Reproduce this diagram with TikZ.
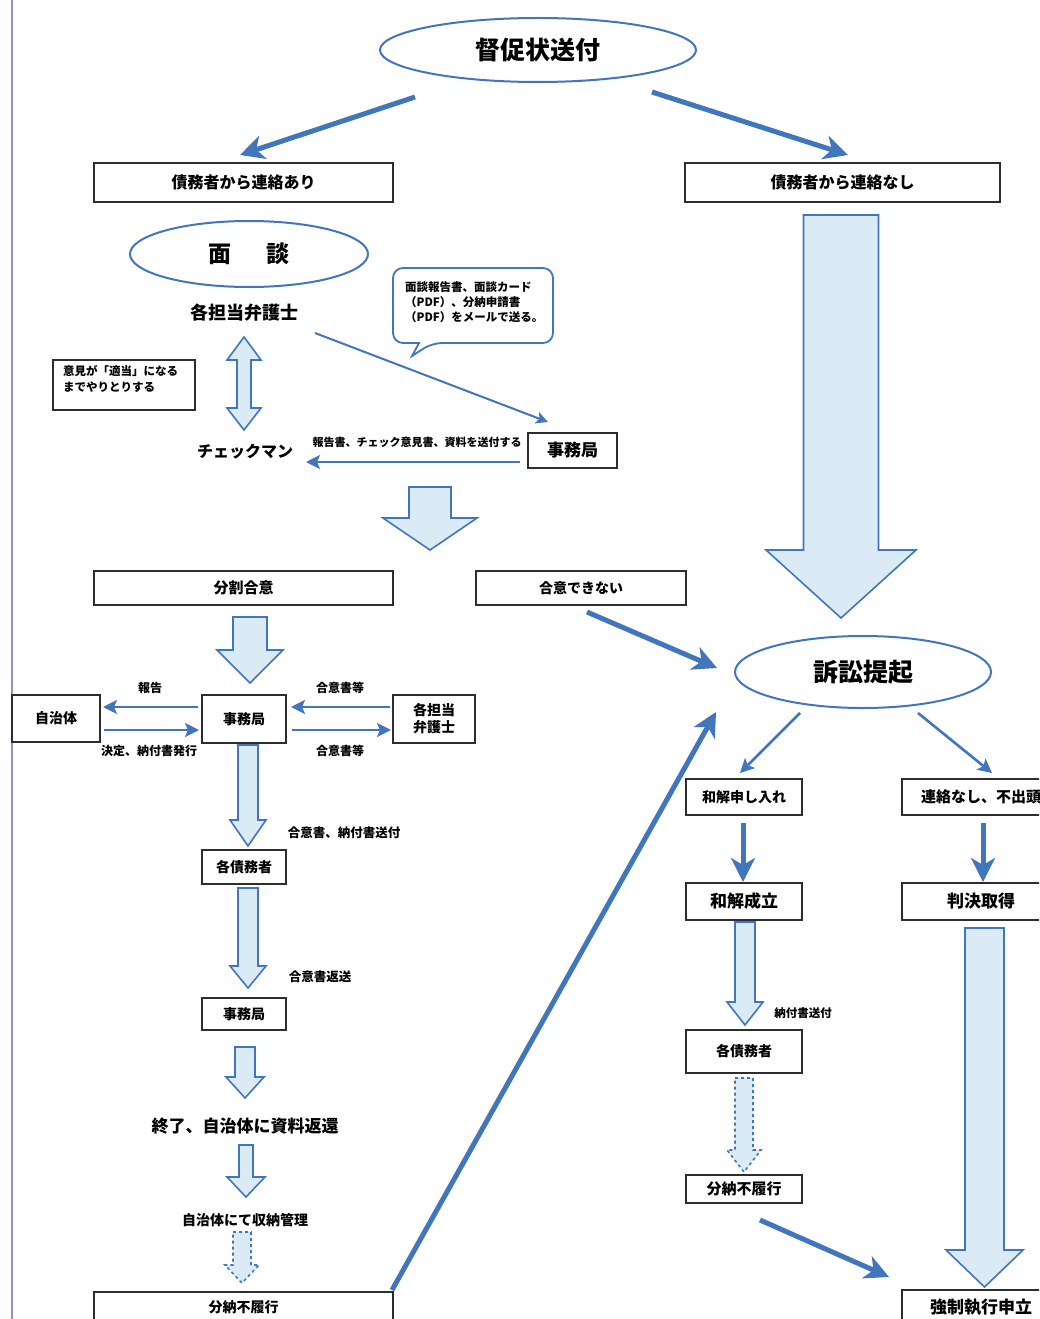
\documentclass[tikz,border=0pt]{standalone}
\usepackage{fontspec}
\setmainfont{Noto Sans CJK JP}
\usetikzlibrary{shapes.geometric,arrows.meta}
\definecolor{ab}{RGB}{66,118,188}
\definecolor{lb}{RGB}{219,235,246}
\definecolor{bc}{RGB}{45,45,45}
\definecolor{edge}{RGB}{140,150,185}
\newcommand\F[1]{\fontsize{#1}{#1}\selectfont\bfseries}
\newcommand\blk[7][]{\draw[blk,#1] ({#2-#6},#3) -- ({#2+#6},#3) -- ({#2+#6},#4) -- ({#2+#7},#4) -- (#2,#5) -- ({#2-#7},#4) -- ({#2-#6},#4) -- cycle;}
\tikzset{
 bx/.style={draw=bc, line width=1.6pt, fill=white, inner sep=0pt},
 ell/.style={ellipse, draw=ab, line width=2pt, fill=white, inner sep=0pt},
 lbl/.style={inner sep=0pt},
 blk/.style={draw=ab, line width=1.6pt, fill=lb, line join=miter},
 bigar/.style={draw=ab, line width=5pt, -{Stealth[length=24pt,width=24pt,inset=7pt]}},
 midar/.style={draw=ab, line width=2.6pt, -{Stealth[length=14pt,width=14pt,inset=3pt]}},
 thinar/.style={draw=ab, line width=2pt, -{Stealth[length=12pt,width=12pt,inset=3pt]}},
}
\begin{document}
\begin{tikzpicture}[x=1pt,y=-1pt]
\useasboundingbox (0,0) rectangle (1039,1319);
\fill[white] (0,0) rectangle (1039,1319);
\clip (0,0) rectangle (1039,1319);
\draw[edge, line width=1.5pt] (12,0) -- (12,1319);

% ---- top part
\node[ell, minimum width=316, minimum height=64, font=\F{25}] (top) at (538,50) {督促状送付};
\node[bx, minimum width=299, minimum height=39, font=\F{16}] (b1) at (243.5,182.5) {債務者から連絡あり};
\node[bx, minimum width=315, minimum height=39, font=\F{16}] (b2) at (842.5,182.5) {債務者から連絡なし};
\coordinate (t1) at (415,97); \coordinate (t1e) at (240,155);
\coordinate (t2) at (652,92); \coordinate (t2e) at (848,155);
\draw[bigar] (t1) -- (t1e);
\draw[bigar] (t2) -- (t2e);

\node[ell, minimum width=238, minimum height=66, font=\F{23}] (mendan) at (249,254) {面\hspace{1.5em}談};
\node[lbl, font=\F{18}] (tantou) at (244,313) {各担当弁護士};

% speech bubble
\draw[ab, line width=1.8pt, fill=white, rounded corners=10pt] (393,268) -- (553,268) -- (553,343) -- (432,343) [sharp corners] -- (412,356) -- (419,343) [rounded corners=10pt] -- (393,343) -- cycle;
\node[lbl, align=left, anchor=north west, font=\F{11.5}] (bub) at (405,281) {面談報告書、面談カード\\[3.5pt]（PDF）、分納申請書\\[3.5pt]（PDF）をメールで送る。};

\node[bx, line width=2pt, minimum width=142, minimum height=50] (note) at (124,385) {};
\node[lbl, align=left, anchor=north west, font=\F{11.5}] (notetxt) at (63,365) {意見が「適当」になる\\[4.5pt]までやりとりする};

% double block arrow
\draw[blk] (244,337) -- (261,360) -- (251,360) -- (251,408) -- (261,408) -- (244,430) -- (227,408) -- (237,408) -- (237,360) -- (227,360) -- cycle;

\node[lbl, font=\F{16}] (check) at (245,452) {チェックマン};
\node[bx, minimum width=89, minimum height=35, font=\F{17}] (jim1) at (572.5,450.5) {事務局};
\coordinate (c1) at (315,333); \coordinate (c1e) at (548,422);
\draw[thinar] (c1) -- (c1e);
\coordinate (c2) at (520,462); \coordinate (c2e) at (306,462);
\draw[midar] (c2) -- (c2e);
\node[lbl, font=\F{11}] (lab1) at (417,442) {報告書、チェック意見書、資料を送付する};

\blk{430}{487}{518}{550}{21}{47}
\blk{841}{215}{550}{618}{37.5}{75}

% ---- middle
\node[bx, minimum width=299, minimum height=34, font=\F{15}] (bunkatsu) at (243.5,588) {分割合意};
\node[bx, minimum width=210, minimum height=34, font=\F{14}] (fugoui) at (581,588) {合意できない};
\node[ell, minimum width=256, minimum height=72, font=\F{25}] (soshou) at (863,672) {訴訟提起};
\coordinate (f1) at (587,612); \coordinate (f1e) at (717,668);
\draw[bigar] (f1) -- (f1e);

\blk{250}{617}{650}{683}{17}{33}

\node[bx, minimum width=88, minimum height=47, font=\F{14}] (jichi) at (56,718.5) {自治体};
\node[bx, minimum width=84, minimum height=48, font=\F{14}] (jim2) at (244,719) {事務局};
\node[bx, minimum width=82, minimum height=48, font=\F{14}, align=center] (bengo) at (434,719) {各担当\\[3pt]弁護士};
\coordinate (r1) at (198,707); \coordinate (r1e) at (103,707);
\coordinate (r2) at (104,730); \coordinate (r2e) at (199,730);
\coordinate (r3) at (390,707); \coordinate (r3e) at (291,707);
\coordinate (r4) at (292,730); \coordinate (r4e) at (391,730);
\draw[midar] (r1) -- (r1e);
\draw[midar] (r2) -- (r2e);
\draw[midar] (r3) -- (r3e);
\draw[midar] (r4) -- (r4e);
\node[lbl, font=\F{12}] (lab2) at (150,688) {報告};
\node[lbl, font=\F{12}] (lab3) at (149,751) {決定、納付書発行};
\node[lbl, font=\F{12}] (lab4) at (340,688) {合意書等};
\node[lbl, font=\F{12}] (lab5) at (340,751) {合意書等};

\blk{248}{745}{820}{846}{10}{18}
\node[lbl, font=\F{12.5}] (lab6) at (344,833) {合意書、納付書送付};
\node[bx, minimum width=84, minimum height=34, font=\F{14}] (saimu1) at (244,867) {各債務者};
\blk{248}{888}{966}{988}{10}{18}
\node[lbl, font=\F{12.5}] (lab7) at (320,977) {合意書返送};
\node[bx, minimum width=84, minimum height=32, font=\F{14}] (jim3) at (244,1014) {事務局};
\blk{245}{1047}{1077}{1098}{10}{19}
\node[lbl, font=\F{17}] (owari) at (245,1126) {終了、自治体に資料返還};
\blk{246}{1145}{1177}{1197}{7}{19}
\node[lbl, font=\F{14}] (shuno) at (245,1220) {自治体にて収納管理};
\blk[dashed]{242}{1232}{1265}{1283}{9}{17}
\node[bx, minimum width=299, minimum height=30, font=\F{14}] (funou1) at (243.5,1307) {分納不履行};
\coordinate (g1) at (392,1290); \coordinate (g1e) at (716,712);
\draw[bigar] (g1) -- (g1e);

% ---- right
\coordinate (s1) at (800,713); \coordinate (s1e) at (740,773);
\coordinate (s2) at (918,713); \coordinate (s2e) at (992,773);
\draw[midar] (s1) -- (s1e);
\draw[midar] (s2) -- (s2e);
\node[bx, minimum width=116, minimum height=36, font=\F{14}] (moushi) at (744,797) {和解申し入れ};
\node[bx, minimum width=158, minimum height=36, font=\F{15}] (renraku) at (981,797) {連絡なし、不出頭};
\coordinate (w1) at (743,823); \coordinate (w1e) at (743,882);
\coordinate (w2) at (983,823); \coordinate (w2e) at (983,882);
\draw[bigar] (w1) -- (w1e);
\draw[bigar] (w2) -- (w2e);
\node[bx, minimum width=116, minimum height=37, font=\F{17}] (seiritsu) at (744,901.5) {和解成立};
\node[bx, minimum width=158, minimum height=37, font=\F{17}] (hanketsu) at (981,901.5) {判決取得};
\blk{745}{922}{1002}{1025}{10}{18}
\node[lbl, font=\F{11.5}] (lab8) at (803,1013) {納付書送付};
\node[bx, minimum width=116, minimum height=43, font=\F{14}] (saimu2) at (744,1051.5) {各債務者};
\blk[dashed]{744}{1078}{1150}{1172}{9}{17}
\node[bx, minimum width=116, minimum height=28, font=\F{15}] (funou2) at (744,1189) {分納不履行};
\coordinate (k1) at (760,1220); \coordinate (k1e) at (889,1277);
\draw[bigar] (k1) -- (k1e);
\blk{984.5}{928}{1250}{1287}{19.5}{38.5}
\node[bx, minimum width=158, minimum height=34, font=\F{17}] (kyousei) at (981,1307) {強制執行申立};
\end{tikzpicture}
\end{document}
